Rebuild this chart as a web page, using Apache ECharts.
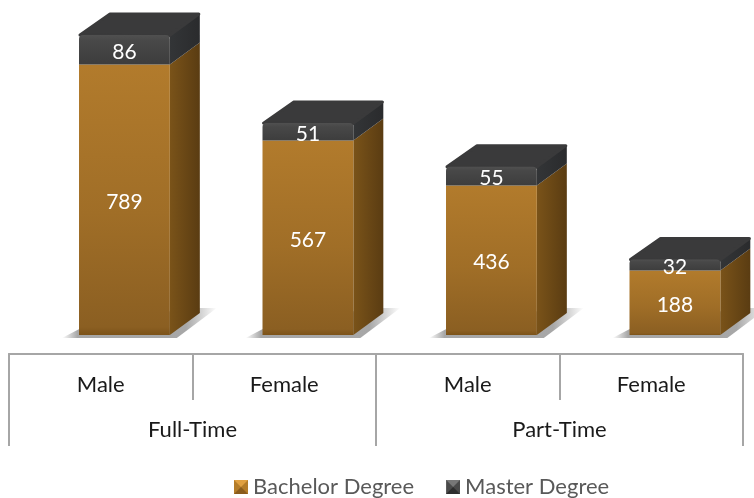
<!DOCTYPE html>
<html>
<head>
<meta charset="utf-8">
<title>Bachelor and Master Degree</title>
<style>
  html, body { margin: 0; padding: 0; background: #fff; }
  #chart { width: 754px; height: 498px; }
</style>
<script src="https://cdn.jsdelivr.net/npm/echarts@6/dist/echarts.min.js"></script>
</head>
<body>
<div id="chart"></div>
<script>
var genders = ['Male', 'Female', 'Male', 'Female'];
var groups = ['Full-Time', 'Part-Time'];
var bachelor = [789, 567, 436, 188];
var master = [86, 51, 55, 32];

var FONT = 'Lato';
var DEPTH_X = 30;
var DEPTH_Y = 22;

function vGrad(stops) {
    return new echarts.graphic.LinearGradient(0, 0, 0, 1, stops.map(function (s) {
        return { offset: s[0], color: s[1] };
    }));
}
function hGrad(c0, c1) {
    return new echarts.graphic.LinearGradient(0, 0, 1, 0, [
        { offset: 0, color: c0 },
        { offset: 1, color: c1 }
    ]);
}

// legend marker with the bevelled look of the original
function bevelIcon(top, sides, bottom) {
    var svg = '<svg xmlns="http://www.w3.org/2000/svg" width="14" height="14">' +
        '<rect width="14" height="14" fill="' + sides + '"/>' +
        '<path d="M0 0H14L7 7Z" fill="' + top + '"/>' +
        '<path d="M0 14H14L7 7Z" fill="' + bottom + '"/>' +
        '</svg>';
    return 'image://data:image/svg+xml;charset=utf-8,' + encodeURIComponent(svg);
}

// soft floor shadow, fades out towards both tips
var shadowFill = new echarts.graphic.LinearGradient(0, 0, 1, 0, [
    { offset: 0, color: 'rgba(130,130,130,0)' },
    { offset: 0.1, color: 'rgba(130,130,130,0.7)' },
    { offset: 0.8, color: 'rgba(130,130,130,0.7)' },
    { offset: 1, color: 'rgba(130,130,130,0)' }
]);

// one box of the stack: front face, right side, and optionally the lid and the floor shadow
function renderBox(colors, withLid, withShadow) {
    return function (params, api) {
        var idx = api.value(0);
        var base = api.value(1);
        var val = api.value(2);
        var bottom = api.coord([idx, base]);
        var top = api.coord([idx, base + val]);
        var band = api.size([1, 0])[0];
        var w = band * 0.495;
        var x0 = bottom[0] + band * 0.129 - w / 2;
        var x1 = x0 + w;
        var y0 = top[1];
        var y1 = bottom[1];
        var children = [];

        if (withShadow) {
            children.push({
                type: 'polygon',
                shape: { points: [[x0 - 17, y1 + 3], [x1 + 7, y1 + 3], [x1 + 47, y1 - 27], [x1 + 20, y1 - 27], [x0 + 8, y1 - 10]] },
                style: { fill: shadowFill }
            });
        }
        children.push({
            type: 'polygon',
            shape: { points: [[x1, y0], [x1 + DEPTH_X, y0 - DEPTH_Y], [x1 + DEPTH_X, y1 - DEPTH_Y], [x1, y1]] },
            style: { fill: colors.side }
        });
        if (withLid) {
            children.push({
                type: 'polygon',
                shape: { points: [[x0 + 1, y0], [x0 + DEPTH_X + 1, y0 - DEPTH_Y + 1], [x1 + DEPTH_X - 1, y0 - DEPTH_Y + 1], [x1 - 1, y0 + 1]] },
                style: { fill: '#3a3a3b', stroke: '#3a3a3b', lineWidth: 3, lineJoin: 'round' }
            });
        }
        children.push({
            type: 'rect',
            shape: { x: x0, y: y0, width: w, height: y1 - y0, r: withLid ? [4, 4, 0, 0] : 0 },
            style: { fill: colors.front }
        });
        children.push({
            type: 'text',
            x: (x0 + x1) / 2,
            y: (y0 + y1) / 2 + 2,
            style: {
                text: String(val),
                fill: '#fff',
                font: '21px ' + FONT,
                align: 'center',
                verticalAlign: 'middle'
            }
        });
        return { type: 'group', children: children };
    };
}

var chart = echarts.init(document.getElementById('chart'));

var bachelorData = bachelor.map(function (v, i) { return [i, 0, v]; });
var masterData = master.map(function (v, i) { return [i, bachelor[i], v]; });

chart.setOption({
    animation: false,
    backgroundColor: '#fff',
    grid: { left: 9, right: 11, top: 35, bottom: 163 },
    legend: {
        left: 234,
        top: 476,
        padding: 0,
        itemWidth: 14,
        itemHeight: 14,
        itemGap: 32,
        textStyle: { color: '#595959', fontFamily: FONT, fontSize: 22 },
        data: [
            { name: 'Bachelor Degree', icon: bevelIcon('#e0a040', '#b47c28', '#8a5c1c') },
            { name: 'Master Degree', icon: bevelIcon('#777777', '#4a4a4a', '#2e2e2e') }
        ]
    },
    xAxis: [
        {
            type: 'category',
            position: 'bottom',
            offset: 19,
            data: genders,
            axisLine: { show: true, onZero: false, lineStyle: { color: '#a6a6a6', width: 2 } },
            axisTick: { show: true, length: 46, lineStyle: { color: '#a6a6a6', width: 2 } },
            axisLabel: { interval: 0, margin: 20, color: '#1a1a1a', fontFamily: FONT, fontSize: 22 }
        },
        {
            type: 'category',
            position: 'bottom',
            offset: 19,
            data: groups,
            axisLine: { show: true, onZero: false, lineStyle: { color: '#a6a6a6', width: 2 } },
            axisTick: { show: true, length: 92, lineStyle: { color: '#a6a6a6', width: 2 } },
            axisLabel: { interval: 0, margin: 65, color: '#1a1a1a', fontFamily: FONT, fontSize: 22 }
        }
    ],
    yAxis: { type: 'value', min: 0, max: 875, show: false },
    series: [
        {
            name: 'Bachelor Degree',
            type: 'custom',
            clip: false,
            itemStyle: { color: '#b07a2a' },
            renderItem: renderBox({
                front: vGrad([[0, '#b27b2c'], [0.55, '#a06e27'], [0.97, '#8b5f22'], [1, '#7c5319']]),
                side: hGrad('#7a5319', '#5a3c12')
            }, false, true),
            encode: { x: 0, y: 2 },
            data: bachelorData
        },
        {
            name: 'Master Degree',
            type: 'custom',
            clip: false,
            itemStyle: { color: '#404040' },
            renderItem: renderBox({
                front: vGrad([[0, '#505050'], [0.2, '#484848'], [1, '#3d3d3d']]),
                side: hGrad('#333537', '#2a2b2d')
            }, true, false),
            encode: { x: 0, y: 2 },
            data: masterData
        }
    ]
});
</script>
</body>
</html>
